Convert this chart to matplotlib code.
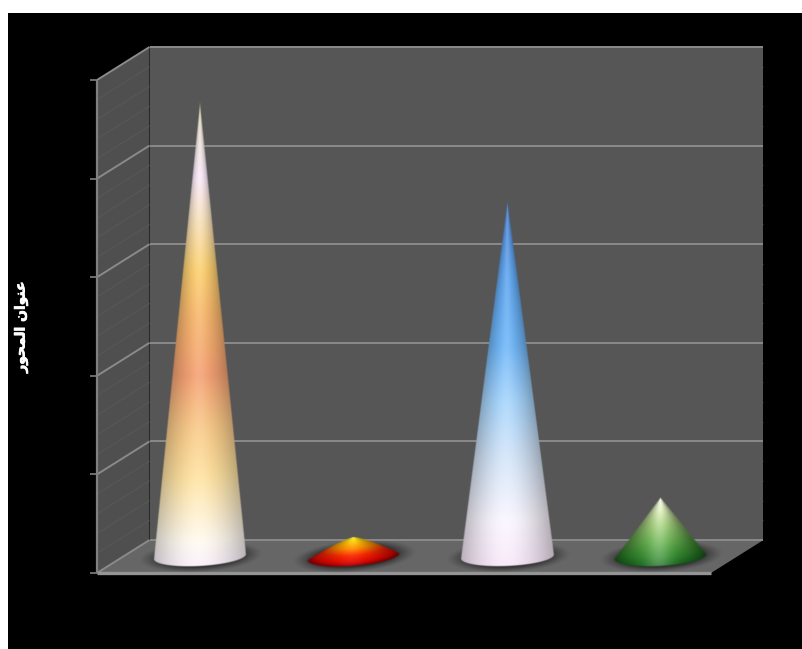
import numpy as np
import matplotlib
matplotlib.use("Agg")
import matplotlib.pyplot as plt
import matplotlib.patheffects as pe
from matplotlib.colors import LinearSegmentedColormap
from matplotlib.patches import Polygon, Rectangle

# Series values, one cone per category
categories = ["A", "B", "C", "D"]
values = [4.6, 0.2, 3.6, 0.6]
y_ticks = [0, 1, 2, 3, 4, 5]
y_minor_ticks = [i / 5 for i in range(26)]

# Axis title in visual order with Arabic presentation forms ("عنوان المحور")
axis_title = "\uFEAD\uFEEE\uFEA4\uFEE4\uFEDF\uFE8D \uFEE5\uFE8D\uFEEE\uFEE8\uFECB"

# Colour ramps from the base of each cone up to its tip: (position, rgb)
ramps = [
    [(0.0, (250, 240, 250)), (0.05, (255, 250, 240)), (0.19, (255, 226, 160)),
     (0.30, (248, 200, 135)), (0.41, (244, 160, 115)), (0.54, (247, 182, 108)),
     (0.64, (252, 208, 112)), (0.75, (247, 225, 190)), (0.84, (250, 234, 250)),
     (1.0, (225, 220, 190))],
    [(0.0, (140, 0, 0)), (0.14, (225, 5, 0)), (0.38, (252, 40, 0)),
     (0.62, (255, 140, 0)), (0.85, (255, 205, 10)), (1.0, (250, 235, 60))],
    [(0.0, (248, 232, 248)), (0.12, (250, 246, 255)), (0.30, (210, 228, 248)),
     (0.45, (165, 212, 252)), (0.60, (112, 182, 247)), (0.80, (96, 165, 238)),
     (1.0, (85, 135, 205))],
    [(0.0, (25, 105, 30)), (0.12, (50, 140, 45)), (0.35, (105, 180, 80)),
     (0.60, (170, 212, 130)), (0.82, (225, 242, 190)), (1.0, (250, 250, 235))],
]
edge_dark = [0.76, 0.70, 0.74, 0.60]
base_tilt = [0.054, 0.077, 0.043, 0.054]
highlight = [0.12, 0.06, 0.12, 0.22]
side_profile = [1.0, 0.8, 1.0, 1.0]   # below 1 bulges the cone's sides outward

W, H = 802, 649
DEPTH_X = 52.5 / 153.5   # depth of the 3-D box in category units
DEPTH_Y = 33 / 98.6      # depth of the 3-D box in value units
BASE_R = 46.0            # cone base semi-axes in pixels
BASE_r = 9.5

fig = plt.figure(figsize=(W / 100, H / 100), dpi=100, facecolor="white")
fig.add_artist(Rectangle((8 / W, 0), (W - 8) / W, (H - 13) / H,
                         transform=fig.transFigure, color="black", lw=0, zorder=-1))

ax = fig.add_axes([97 / W, 1 - 573 / H, (711 - 97) / W, (573 - 80) / H])
ax.set_xlim(0, len(categories))
ax.set_ylim(0, 5)
ax.axis("off")

n = len(categories)
ymax = y_ticks[-1]

# Walls and floor of the box
ax.add_patch(Polygon([(0, 0), (DEPTH_X, DEPTH_Y), (DEPTH_X, ymax + DEPTH_Y), (0, ymax)],
                     fc="#4f4f4f", ec="none", clip_on=False, zorder=1))
ax.add_patch(Polygon([(DEPTH_X, DEPTH_Y), (n + DEPTH_X, DEPTH_Y), (n + DEPTH_X, ymax + DEPTH_Y),
                      (DEPTH_X, ymax + DEPTH_Y)],
                     fc="#565656", ec="none", clip_on=False, zorder=1))
ax.add_patch(Polygon([(0, 0), (n, 0), (n + DEPTH_X, DEPTH_Y), (DEPTH_X, DEPTH_Y)],
                     fc="#666666", ec="none", clip_on=False, zorder=1))

line_kw = dict(clip_on=False, solid_capstyle="butt")
for v in y_minor_ticks:
    if v not in y_ticks:
        ax.plot([0, DEPTH_X], [v, v + DEPTH_Y], color="#585858", lw=0.7, zorder=2, **line_kw)
        ax.plot([DEPTH_X, n + DEPTH_X], [v + DEPTH_Y] * 2, color="#585858", lw=0.6, zorder=2, **line_kw)

for v in y_ticks:
    grey = "#8a8a8a"
    ax.plot([0, DEPTH_X], [v, v + DEPTH_Y], color=grey, lw=1.4, zorder=3, **line_kw)
    ax.plot([DEPTH_X, n + DEPTH_X], [v + DEPTH_Y] * 2, color=grey, lw=1.4, zorder=3, **line_kw)
    ax.plot([-7 / 153.5, 0], [v, v], color="#808080", lw=1.2, zorder=3, **line_kw)

# Front edges of the box
ax.plot([0, 0], [0, ymax], color="#808080", lw=1.6, zorder=3, **line_kw)
ax.plot([0, n], [0, 0], color="#949494", lw=2.4, zorder=3, **line_kw)


def to_px(x, y):
    """Data position to pixel position with y running downwards."""
    px, py = ax.transData.transform((x, y))
    return px, H - py


def px_extent(x0, x1, y0, y1):
    """Pixel box to data-space extent (left, right, bottom, top)."""
    inv = ax.transData.inverted()
    left, bottom = inv.transform((x0, H - y1))
    right, top = inv.transform((x1, H - y0))
    return left, right, bottom, top


def draw_shadow(cx, cy, tilt):
    x0, x1 = int(cx - 72), int(cx + 76)
    y0, y1 = int(cy - 24), int(cy + 24)
    X, Y = np.meshgrid(np.arange(x0, x1) + 0.5, np.arange(y0, y1) + 0.5)
    ex = (X - (cx + 1)) / 62.0
    ey = (Y + tilt * (X - cx) - cy) / 16.0
    d = np.sqrt(ex ** 2 + ey ** 2)
    a = 0.72 * np.clip((1 - d) / 0.45, 0, 1) ** 1.3
    img = np.zeros(X.shape + (4,))
    img[..., 3] = a
    ax.imshow(img, extent=px_extent(x0, x1, y0, y1), origin="upper", aspect="auto",
              interpolation="bilinear", zorder=4, clip_on=False)


def draw_cone(cx, base_y, tip_y, ramp, dark, tilt, glow, profile, z):
    cmap = LinearSegmentedColormap.from_list(
        "cone", [(p, tuple(c / 255 for c in rgb)) for p, rgb in ramp])
    height = base_y - tip_y
    x0, x1 = int(cx - BASE_R - 3), int(cx + BASE_R + 3)
    y0, y1 = int(tip_y - 2), int(base_y + BASE_r + 6)
    step = 0.5
    X, Y = np.meshgrid(np.arange(x0, x1, step) + step / 2, np.arange(y0, y1, step) + step / 2)
    dx = X - cx
    ye = Y + tilt * dx
    # Height along the cone surface for each pixel, solved by damped iteration
    t = np.clip((base_y - ye) / height, 0, 1)
    for _ in range(40):
        frac = np.clip(1 - t, 0, None) ** profile
        w = np.maximum(BASE_R * frac, 1e-3)
        c = np.sqrt(np.clip(1 - (dx / w) ** 2, 0, 1))
        t_new = (base_y - ye + BASE_r * frac * c) / height
        t = 0.5 * t + 0.5 * np.clip(t_new, -0.5, 1)
    w = np.maximum(BASE_R * np.clip(1 - t, 0, None) ** profile, 1e-3)
    s = dx / w
    rgb = cmap(np.clip(t, 0, 1))[..., :3]
    # Side shading with a soft highlight running down the middle
    off = np.clip(np.abs(s + 0.04), 0, 1)
    rgb = rgb * (1 - (1 - dark) * off ** 1.9)[..., None]
    rgb = rgb + (1 - rgb) * (glow * np.exp(-(off / 0.3) ** 2))[..., None]
    side = w - np.abs(dx)
    bottom = t * height
    alpha = np.clip(np.minimum(side, bottom) + 0.5, 0, 1)
    alpha[Y < tip_y] = 0
    img = np.dstack([rgb, alpha])
    ax.imshow(img, extent=px_extent(x0, x1, y0, y1), origin="upper", aspect="auto",
              interpolation="bilinear", zorder=z, clip_on=False)


for i, val in enumerate(values):
    cx_data = i + 0.5 + DEPTH_X / 2
    base_data = DEPTH_Y / 2
    cx, base_y = to_px(cx_data, base_data)
    _, tip_y = to_px(cx_data, base_data + val)
    draw_shadow(cx, base_y, base_tilt[i])
    draw_cone(cx, base_y, tip_y, ramps[i], edge_dark[i], base_tilt[i], highlight[i],
              side_profile[i], 5 + i)

ax.set_xlim(0, n)
ax.set_ylim(0, 5)

fig.text(21 / W, 1 - 327 / H, axis_title, rotation=90, color="white", fontsize=10,
         fontweight="bold", family=["DejaVu Sans"], ha="center", va="center",
         path_effects=[pe.withStroke(linewidth=0.5, foreground="white")])

fig.savefig("out.png", dpi=100, facecolor="white")
